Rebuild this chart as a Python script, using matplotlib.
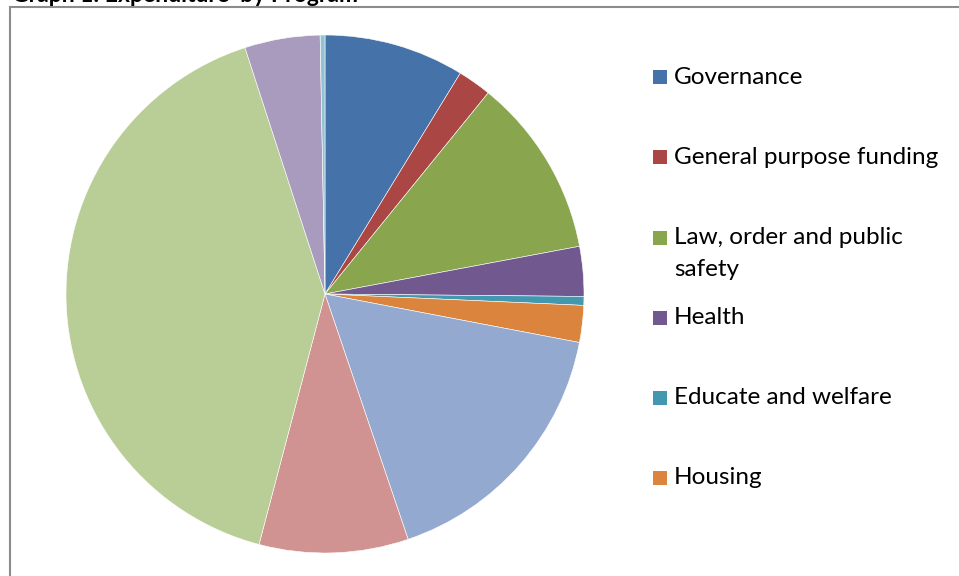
import matplotlib.pyplot as plt
from matplotlib.patches import Rectangle

# Expenditure share by program (%), clockwise from 12 o'clock
programs = ["Governance", "General purpose funding", "Law, order and public\nsafety",
            "Health", "Educate and welfare", "Housing", "Community amenities",
            "Recreation and culture", "Transport", "Economic services",
            "Other property and services"]
shares = [8.75, 2.1, 11.2, 3.1, 0.55, 2.3, 16.8, 9.3, 40.9, 4.7, 0.3]
colors = ["#4572A8", "#AA4643", "#89A54E", "#71588F", "#4198AF", "#DB843D",
          "#93A9CF", "#D19392", "#B9CD96", "#A99BBD", "#92C3D4"]

W, H = 959, 576
fig = plt.figure(figsize=(W / 100, H / 100), dpi=100)

# Chart border (only top and left visible in the crop)
fig.patches.append(Rectangle((10 / W, -0.05), 1.2, (H - 7) / H + 0.05,
                             transform=fig.transFigure, fill=False,
                             edgecolor="#8c8c8c", linewidth=1.5))

# Pie axes: centre (325, 294), radius 259 px
cx, cy, r = 325, 294, 259
ax = fig.add_axes([(cx - r) / W, (H - cy - r) / H, 2 * r / W, 2 * r / H])
ax.pie(shares, colors=colors, startangle=90, counterclock=False, radius=1,
       wedgeprops=dict(edgecolor="white", linewidth=0.4))
ax.set_xlim(-1, 1)
ax.set_ylim(-1, 1)
ax.set_aspect("auto")
ax.axis("off")

# Title, cut off at the top in the original
fig.text(12 / W, 1 - 2 / H, "Graph 1: Expenditure  by Program", fontsize=16.5,
         fontweight="bold", family="Lato", va="baseline", ha="left")

# Legend (only first six entries fit)
legend_y = [77, 157, 238, 318, 398, 478]
for lab, col, y in zip(programs[:6], colors[:6], legend_y):
    fig.patches.append(Rectangle((653 / W, 1 - (y + 7) / H), 14 / W, 14 / H,
                                 transform=fig.transFigure, facecolor=col,
                                 edgecolor="none"))
    for i, line in enumerate(lab.split("\n")):
        fig.text(674 / W, 1 - (y + 32 * i) / H, line, fontsize=17.5,
                 family="Lato", va="center", ha="left")

fig.savefig("out.png", dpi=100)
